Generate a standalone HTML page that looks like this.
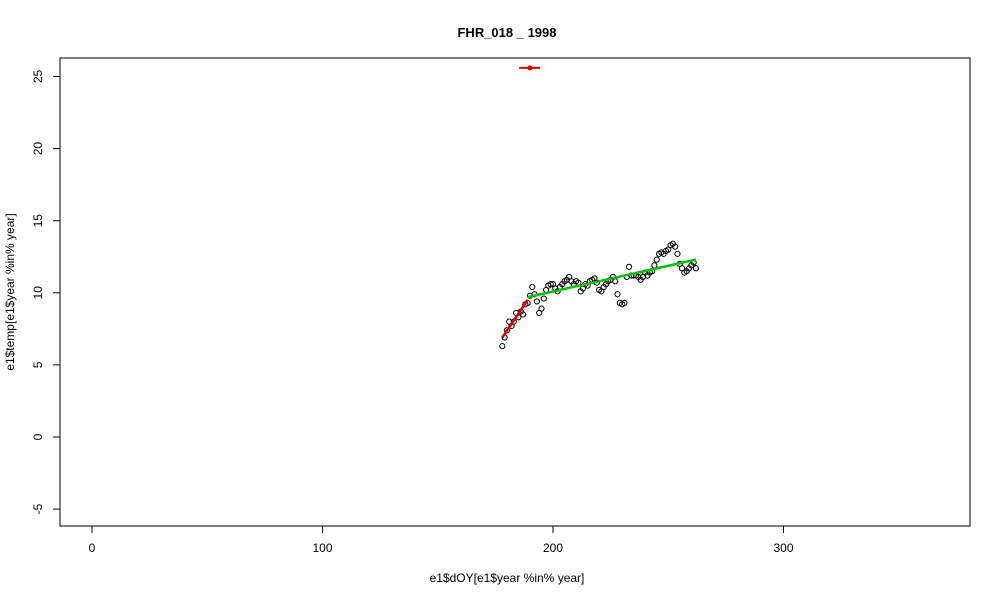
<!DOCTYPE html>
<html><head><meta charset="utf-8"><style>
body{margin:0;background:#fff;}
svg{display:block;font-family:"Liberation Sans",Arial,sans-serif;}
</style></head><body>
<svg id="chart" width="1000" height="600">
<text x="507" y="37" text-anchor="middle" font-weight="bold" font-size="13">FHR_018 _ 1998</text>
<rect x="60" y="58" width="910" height="468" fill="none" stroke="#000"/>
<g id="xaxis"></g>
<g id="yaxis"></g>
<text x="507" y="582" text-anchor="middle" font-size="12">e1$dOY[e1$year %in% year]</text>
<text transform="translate(14,292) rotate(-90)" text-anchor="middle" font-size="12">e1$temp[e1$year %in% year]</text>
<g id="marks"></g>
</svg>
<script>
const days=[178,179,180,181,182,183,184,185,186,187,188,189,190,191,192,193,194,195,196,197,198,199,200,201,202,203,204,205,206,207,208,209,210,211,212,213,214,215,216,217,218,219,220,221,222,223,224,225,226,227,228,229,230,231,232,233,234,235,236,237,238,239,240,241,242,243,244,245,246,247,248,249,250,251,252,253,254,255,256,257,258,259,260,261,262];
const temps=[6.3,6.9,7.4,8.0,7.7,8.0,8.6,8.3,8.7,8.5,9.2,9.3,9.8,10.4,9.9,9.4,8.6,8.9,9.6,10.2,10.5,10.6,10.6,10.3,10.1,10.4,10.6,10.8,10.9,11.1,10.8,10.6,10.8,10.7,10.1,10.3,10.6,10.5,10.8,10.9,11.0,10.7,10.2,10.1,10.4,10.6,10.8,10.9,11.1,10.8,9.9,9.3,9.2,9.3,11.1,11.8,11.2,11.2,11.2,11.1,10.9,11.1,11.4,11.2,11.4,11.5,11.9,12.3,12.7,12.8,12.7,12.9,13.0,13.3,13.4,13.2,12.7,12.0,11.7,11.4,11.5,11.7,11.9,12.1,11.7];
const redFitX=[178,189], redFitY=[6.9,9.5];
const greenFitX=[189,262], greenFitY=[9.7,12.3];
const peakX=[190], peakY=[25.6], peakRange=[185.3,194.4];
const xTicks=[0,100,200,300], yTicks=[-5,0,5,10,15,20,25];
const NS="http://www.w3.org/2000/svg";
const X=v=>92+v*2.305, Y=v=>437-v*14.42;
function mk(t,a,p){const e=document.createElementNS(NS,t);for(const k in a)e.setAttribute(k,a[k]);p.appendChild(e);return e;}
const xa=document.getElementById('xaxis'),ya=document.getElementById('yaxis'),m=document.getElementById('marks');
mk('line',{x1:X(0),x2:X(300),y1:526,y2:526,stroke:'#000'},xa);
xTicks.forEach(t=>{mk('line',{x1:X(t),x2:X(t),y1:526,y2:533,stroke:'#000'},xa);
 const tx=mk('text',{x:X(t),y:552,'text-anchor':'middle','font-size':12},xa);tx.textContent=t;
 
 });
mk('line',{x1:60,x2:60,y1:Y(-5),y2:Y(25),stroke:'#000'},ya);
yTicks.forEach(t=>{mk('line',{x1:53,x2:60,y1:Y(t),y2:Y(t),stroke:'#000'},ya);
 const tx=mk('text',{transform:`translate(42,${Y(t)}) rotate(-90)`,'text-anchor':'middle','font-size':12},ya);tx.textContent=t;
 
 });
days.forEach((d,i)=>{const c=mk('circle',{cx:X(d),cy:Y(temps[i]),r:2.6,fill:'none',stroke:'#000','stroke-width':1},m);
 
 });
const r=mk('line',{x1:X(redFitX[0]),y1:Y(redFitY[0]),x2:X(redFitX[1]),y2:Y(redFitY[1]),stroke:'#e00000','stroke-width':2.5},m);


const g=mk('line',{x1:X(greenFitX[0]),y1:Y(greenFitY[0]),x2:X(greenFitX[1]),y2:Y(greenFitY[1]),stroke:'#00c000','stroke-width':2.5},m);


const pr=mk('line',{x1:X(peakRange[0]),y1:Y(peakY[0]),x2:X(peakRange[1]),y2:Y(peakY[0]),stroke:'#e00000','stroke-width':2},m);


const pp=mk('circle',{cx:X(peakX[0]),cy:Y(peakY[0]),r:2.5,fill:'#e00000'},m);


</script>
</body></html>
